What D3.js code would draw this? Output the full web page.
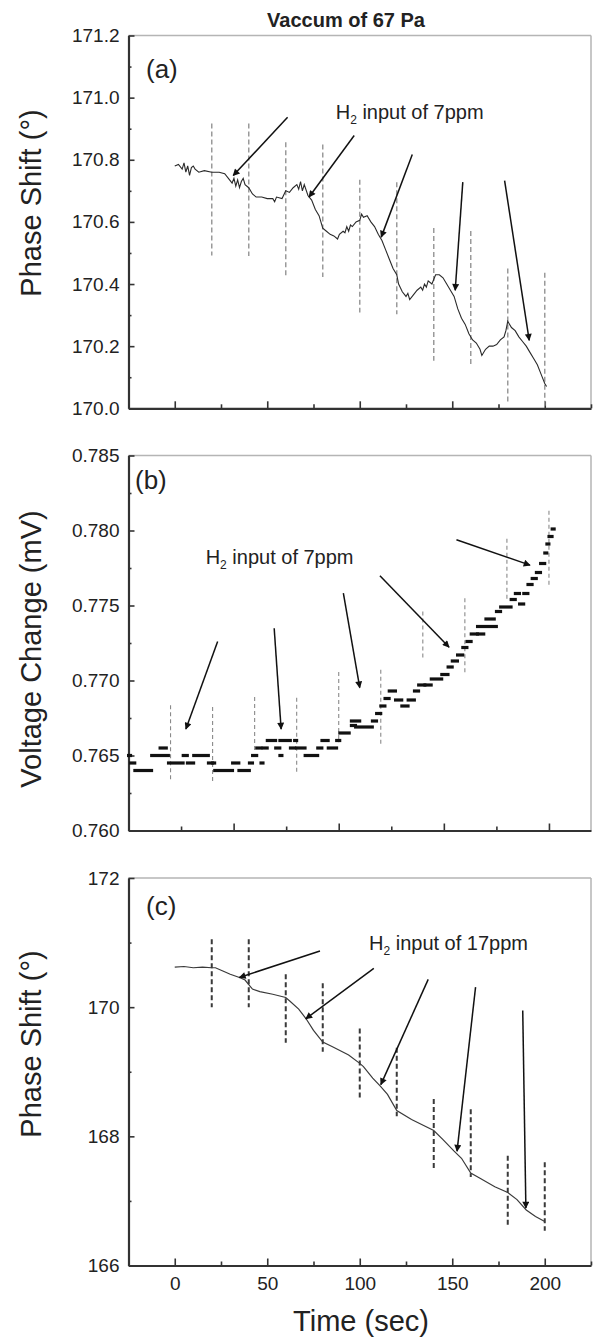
<!DOCTYPE html>
<html>
<head>
<meta charset="utf-8">
<script src="https://cdn.jsdelivr.net/npm/d3@7"></script>
<style>
body { margin: 0; background: #fff; }
text { font-family: "Liberation Sans", Arial, sans-serif; fill: #222; }
</style>
</head>
<body>
<svg id="chart" width="594" height="1338"></svg>
<script>
// ---- data ----
var markTimes = [20, 40, 60, 80, 100, 120, 140, 160, 180, 200];

// (a) phase shift, 7 ppm
var aTime  = [0, 2, 4, 5, 6, 7, 8, 9, 10, 11, 13, 16, 20, 24, 27, 29, 31, 32, 33, 34, 35, 36, 37, 38, 40, 42, 44, 47, 50, 53, 54, 55, 58, 60, 62, 64, 66, 67, 68, 69, 70, 72, 74, 76, 78, 80, 82, 84, 86, 88, 89, 91, 92, 93, 94, 95, 96, 98, 100, 101, 102, 104, 106, 108, 110, 112, 114, 116, 118, 120, 121, 123, 125, 126, 127, 129, 131, 133, 134, 135, 136, 137, 139, 141, 143, 145, 147, 149, 151, 153, 155, 157, 159, 161, 163, 165, 166, 168, 170, 172, 174, 176, 178, 179, 180, 182, 184, 186, 188, 190, 192, 194, 196, 198, 200, 201];
var aPhase = [170.78, 170.785, 170.77, 170.79, 170.76, 170.78, 170.75, 170.775, 170.78, 170.77, 170.76, 170.765, 170.76, 170.76, 170.755, 170.74, 170.725, 170.74, 170.715, 170.735, 170.71, 170.73, 170.74, 170.72, 170.71, 170.69, 170.68, 170.68, 170.675, 170.675, 170.665, 170.68, 170.675, 170.70, 170.695, 170.71, 170.72, 170.705, 170.73, 170.70, 170.72, 170.685, 170.67, 170.64, 170.62, 170.58, 170.57, 170.56, 170.555, 170.545, 170.56, 170.57, 170.565, 170.585, 170.57, 170.59, 170.585, 170.60, 170.605, 170.625, 170.615, 170.62, 170.60, 170.585, 170.56, 170.54, 170.51, 170.48, 170.45, 170.43, 170.40, 170.375, 170.36, 170.37, 170.35, 170.365, 170.38, 170.39, 170.38, 170.40, 170.39, 170.41, 170.40, 170.43, 170.43, 170.42, 170.40, 170.38, 170.36, 170.32, 170.29, 170.27, 170.24, 170.22, 170.21, 170.19, 170.17, 170.19, 170.20, 170.20, 170.205, 170.22, 170.23, 170.25, 170.28, 170.26, 170.25, 170.23, 170.215, 170.20, 170.18, 170.16, 170.14, 170.11, 170.08, 170.07];
var aDashTop = [170.917, 170.917, 170.856, 170.849, 170.736, 170.728, 170.58, 170.571, 170.45, 170.436];
var aDashBot = [170.492, 170.49, 170.428, 170.423, 170.308, 170.303, 170.153, 170.142, 170.02, 170.005];
// arrows: [from t, from value, to t, to value]
var aArrows = [[61, 170.937, 31.6, 170.749], [97, 170.878, 72.6, 170.68], [128.4, 170.817, 111.6, 170.551], [155.7, 170.728, 151.6, 170.38], [178.3, 170.733, 191.6, 170.219]];

// (b) voltage change, stepped readings: run start, run end, level
var bStart = [0, 1, 3, 11, 15, 19, 26, 28, 31, 38, 40, 41, 49.5, 52.5, 57.5, 59, 61, 63, 64, 66, 70, 72, 72, 77, 79, 80, 84, 90, 92, 95, 99, 100.5, 106, 106, 108, 116, 118, 120, 122, 124, 127, 130, 133, 136, 138, 141, 144, 149, 152, 154, 156.5, 159, 161, 163, 166, 166, 170, 175, 177, 182, 184, 186, 188, 190, 192, 194, 196, 198, 199, 200, 201.5];
var bEnd   = [1, 3, 11, 19, 18, 26, 28, 31, 38, 40, 41, 49.5, 52.5, 57.5, 59, 61, 63, 64, 66, 70, 72, 73, 77, 79, 80, 84, 90, 92, 95, 99, 100.5, 105, 108, 110, 116, 118, 120, 122, 124, 127, 130, 133, 136, 138, 141, 144, 149, 152, 154, 156.5, 159, 161, 163, 166, 169, 175, 174, 177, 182, 184, 186, 188, 190, 192, 194, 196, 198, 199, 200, 201.5, 202.5];
var bLevel = [0.7650, 0.7645, 0.7640, 0.7650, 0.7655, 0.7645, 0.7650, 0.7645, 0.7650, 0.7645, 0.7645, 0.7640, 0.7645, 0.7640, 0.7645, 0.7650, 0.7655, 0.7645, 0.7655, 0.7660, 0.7655, 0.7650, 0.7660, 0.7655, 0.7660, 0.7655, 0.7650, 0.7655, 0.7660, 0.7655, 0.7660, 0.7665, 0.7670, 0.7673, 0.7669, 0.7673, 0.7678, 0.7683, 0.7688, 0.7693, 0.7687, 0.7683, 0.7687, 0.7693, 0.7697, 0.7697, 0.7701, 0.7704, 0.7709, 0.7713, 0.7717, 0.7722, 0.7726, 0.7731, 0.7731, 0.7736, 0.7741, 0.7746, 0.7749, 0.7754, 0.7758, 0.7751, 0.7758, 0.7764, 0.7768, 0.7772, 0.7778, 0.7785, 0.7791, 0.7796, 0.7801];
var bDashTop = [0.76835, 0.76824, 0.7689, 0.76885, 0.77057, 0.77072, 0.7746, 0.77548, 0.77945, 0.78132];
var bDashBot = [0.76335, 0.7632, 0.7653, 0.76379, 0.76588, 0.76566, 0.7714, 0.77051, 0.77533, 0.77626];
var bArrows = [[42.4, 0.7726, 27.3, 0.76676], [69.3, 0.77348, 72.6, 0.76676], [102.2, 0.77582, 110, 0.76952], [119.6, 0.77698, 152.5, 0.77222], [156, 0.77938, 191, 0.77769]];

// (c) phase shift, 17 ppm
var cTime  = [0, 5, 10, 15, 20, 22, 26, 30, 35, 38, 40, 42, 46, 53, 60, 62, 67, 71, 75, 80, 85, 94, 100, 102, 107, 111, 115, 120, 128, 140, 145, 151, 155, 160, 165, 173, 180, 185, 190, 195, 200];
var cPhase = [170.62, 170.63, 170.61, 170.62, 170.61, 170.61, 170.56, 170.51, 170.46, 170.42, 170.35, 170.28, 170.24, 170.20, 170.15, 170.10, 169.97, 169.82, 169.64, 169.46, 169.39, 169.26, 169.13, 169.08, 168.90, 168.78, 168.65, 168.40, 168.26, 168.09, 167.95, 167.77, 167.66, 167.43, 167.35, 167.22, 167.13, 167.02, 166.86, 166.76, 166.68];
var cDashTop = [171.05, 171.05, 170.51, 170.37, 169.67, 169.37, 168.58, 168.42, 167.70, 167.60];
var cDashBot = [170.0, 170.0, 169.45, 169.31, 168.59, 168.31, 167.51, 167.37, 166.63, 166.54];
var cArrows = [[78.5, 170.87, 34.9, 170.46], [107.6, 170.60, 70.8, 169.82], [137, 170.43, 111.4, 168.80], [162.6, 170.31, 152.6, 167.77], [188.1, 169.95, 189.8, 166.89]];

var xTicksMajor = [0, 50, 100, 150, 200];
var xTicksMinor = [-25, 25, 75, 125, 175, 225];

// ---- layout ----
var left = 128.5, right = 591;
var svg = d3.select("#chart");

svg.append("defs").append("marker")
    .attr("id", "head")
    .attr("viewBox", "0 0 10 10")
    .attr("refX", 9).attr("refY", 5)
    .attr("markerWidth", 9).attr("markerHeight", 7)
    .attr("markerUnits", "userSpaceOnUse")
    .attr("orient", "auto")
  .append("path")
    .attr("d", "M0,0 L10,5 L0,10 Z")
    .attr("fill", "#111");

function makePanel(opt) {
    var x = d3.scaleLinear().domain(opt.xDomain).range([left, right]);
    var y = d3.scaleLinear().domain(opt.yDomain).range([opt.bottom, opt.top]);
    var g = svg.append("g");

    // light frame top/right
    g.append("line").attr("x1", left).attr("x2", right).attr("y1", opt.top).attr("y2", opt.top)
        .attr("stroke", "#b5b5b5").attr("stroke-width", 1.5);
    g.append("line").attr("x1", right).attr("x2", right).attr("y1", opt.top).attr("y2", opt.bottom)
        .attr("stroke", "#b5b5b5").attr("stroke-width", 1.5);

    // y axis
    var yAx = g.append("g").attr("transform", "translate(" + left + ",0)")
        .call(d3.axisLeft(y).tickValues(opt.yMajor).tickFormat(opt.yFormat)
            .tickSizeInner(-6).tickSizeOuter(0).tickPadding(9));
    g.append("g").attr("transform", "translate(" + left + ",0)")
        .call(d3.axisLeft(y).tickValues(opt.yMinor).tickFormat("")
            .tickSizeInner(-3).tickSizeOuter(0))
        .select(".domain").remove();

    // x axis
    var xAx = g.append("g").attr("transform", "translate(0," + opt.bottom + ")")
        .call(d3.axisBottom(x).tickValues(opt.xMajor).tickFormat(opt.xLabels ? d3.format("d") : "")
            .tickSizeInner(-7).tickSizeOuter(0).tickPadding(11));
    g.append("g").attr("transform", "translate(0," + opt.bottom + ")")
        .call(d3.axisBottom(x).tickValues(opt.xMinor).tickFormat("")
            .tickSizeInner(-4).tickSizeOuter(0))
        .select(".domain").remove();

    g.selectAll(".domain").attr("stroke", "#333").attr("stroke-width", 2.2);
    g.selectAll(".tick line").attr("stroke", "#333").attr("stroke-width", 1.6);
    g.selectAll(".tick text").attr("font-size", 19).attr("fill", "#222")
        .attr("font-family", "'Liberation Sans', Arial, sans-serif");

    // dashed markers of H2 input
    g.append("g").selectAll("line").data(markTimes).join("line")
        .attr("x1", d => x(d)).attr("x2", d => x(d))
        .attr("y1", (d, i) => y(opt.dashTop[i]))
        .attr("y2", (d, i) => y(opt.dashBot[i]))
        .attr("stroke", opt.dashColor).attr("stroke-width", opt.dashWidth)
        .attr("stroke-dasharray", opt.dashArray);

    return { g: g, x: x, y: y };
}

function drawArrows(p, arrows) {
    p.g.append("g").selectAll("line").data(arrows).join("line")
        .attr("x1", d => p.x(d[0])).attr("y1", d => p.y(d[1]))
        .attr("x2", d => p.x(d[2])).attr("y2", d => p.y(d[3]))
        .attr("stroke", "#111").attr("stroke-width", 1.5)
        .attr("marker-end", "url(#head)");
}

function h2Label(p, t, v, rest) {
    var txt = p.g.append("text").attr("x", p.x(t)).attr("y", p.y(v))
        .attr("font-size", 20);
    txt.append("tspan").text("H");
    txt.append("tspan").attr("font-size", 12).attr("dy", 5).text("2");
    txt.append("tspan").attr("dy", -5).text(rest);
}

// ---- panel (a) ----
var pa = makePanel({
    top: 35.5, bottom: 408.3, xDomain: [-25, 225], yDomain: [170.0, 171.2],
    yMajor: [170.0, 170.2, 170.4, 170.6, 170.8, 171.0, 171.2],
    yMinor: [170.1, 170.3, 170.5, 170.7, 170.9, 171.1],
    yFormat: d3.format(".1f"),
    xMajor: xTicksMajor, xMinor: xTicksMinor, xLabels: false,
    dashTop: aDashTop, dashBot: aDashBot,
    dashColor: "#9a9a9a", dashWidth: 1.5, dashArray: "5,3"
});
pa.g.append("path").datum(d3.range(aTime.length))
    .attr("fill", "none").attr("stroke", "#2a2a2a").attr("stroke-width", 1.1)
    .attr("d", d3.line().x(i => pa.x(aTime[i])).y(i => pa.y(aPhase[i])));
drawArrows(pa, aArrows);
h2Label(pa, 87, 170.93, " input of 7ppm");

// ---- panel (b) ----
var pb = makePanel({
    top: 455.5, bottom: 830.5, xDomain: [0, 220], yDomain: [0.760, 0.785],
    yMajor: [0.760, 0.765, 0.770, 0.775, 0.780, 0.785],
    yMinor: [0.7625, 0.7675, 0.7725, 0.7775, 0.7825],
    yFormat: d3.format(".3f"),
    xMajor: [50, 100, 150, 200], xMinor: [25, 75, 125, 175], xLabels: false,
    dashTop: bDashTop, dashBot: bDashBot,
    dashColor: "#8a8a8a", dashWidth: 1.1, dashArray: "4,3"
});
pb.g.append("g").selectAll("rect").data(d3.range(bStart.length)).join("rect")
    .attr("x", i => pb.x(bStart[i]) - 1.5)
    .attr("width", i => pb.x(bEnd[i]) - pb.x(bStart[i]) + 3)
    .attr("y", i => pb.y(bLevel[i]) - 1.6)
    .attr("height", 3.2)
    .attr("fill", "#111");
drawArrows(pb, bArrows);
h2Label(pb, 36.7, 0.7778, " input of 7ppm");

// ---- panel (c) ----
var pc = makePanel({
    top: 878, bottom: 1265.5, xDomain: [-25, 225], yDomain: [166, 172],
    yMajor: [166, 168, 170, 172], yMinor: [167, 169, 171],
    yFormat: d3.format("d"),
    xMajor: xTicksMajor, xMinor: xTicksMinor, xLabels: true,
    dashTop: cDashTop, dashBot: cDashBot,
    dashColor: "#3a3a3a", dashWidth: 2, dashArray: "5,3"
});
pc.g.append("path").datum(d3.range(cTime.length))
    .attr("fill", "none").attr("stroke", "#3a3a3a").attr("stroke-width", 1.2)
    .attr("d", d3.line().x(i => pc.x(cTime[i])).y(i => pc.y(cPhase[i])));
drawArrows(pc, cArrows);
h2Label(pc, 105, 170.885, " input of 17ppm");

// ---- texts ----
svg.append("text").attr("x", 346).attr("y", 27).attr("text-anchor", "middle")
    .attr("font-size", 20).attr("font-weight", "bold").text("Vaccum of 67 Pa");

svg.append("text").attr("x", 146).attr("y", 78).attr("font-size", 26).text("(a)");
svg.append("text").attr("x", 135).attr("y", 489).attr("font-size", 26).text("(b)");
svg.append("text").attr("x", 146).attr("y", 915).attr("font-size", 26).text("(c)");

function yTitle(cx, cy, label) {
    svg.append("text").attr("transform", "translate(" + cx + "," + cy + ") rotate(-90)")
        .attr("text-anchor", "middle").attr("font-size", 29).text(label);
}
yTitle(41, 203, "Phase Shift (°)");
yTitle(41, 649, "Voltage Change (mV)");
yTitle(41, 1044, "Phase Shift (°)");

svg.append("text").attr("x", 361).attr("y", 1331).attr("text-anchor", "middle")
    .attr("font-size", 29).text("Time (sec)");
</script>
</body>
</html>
